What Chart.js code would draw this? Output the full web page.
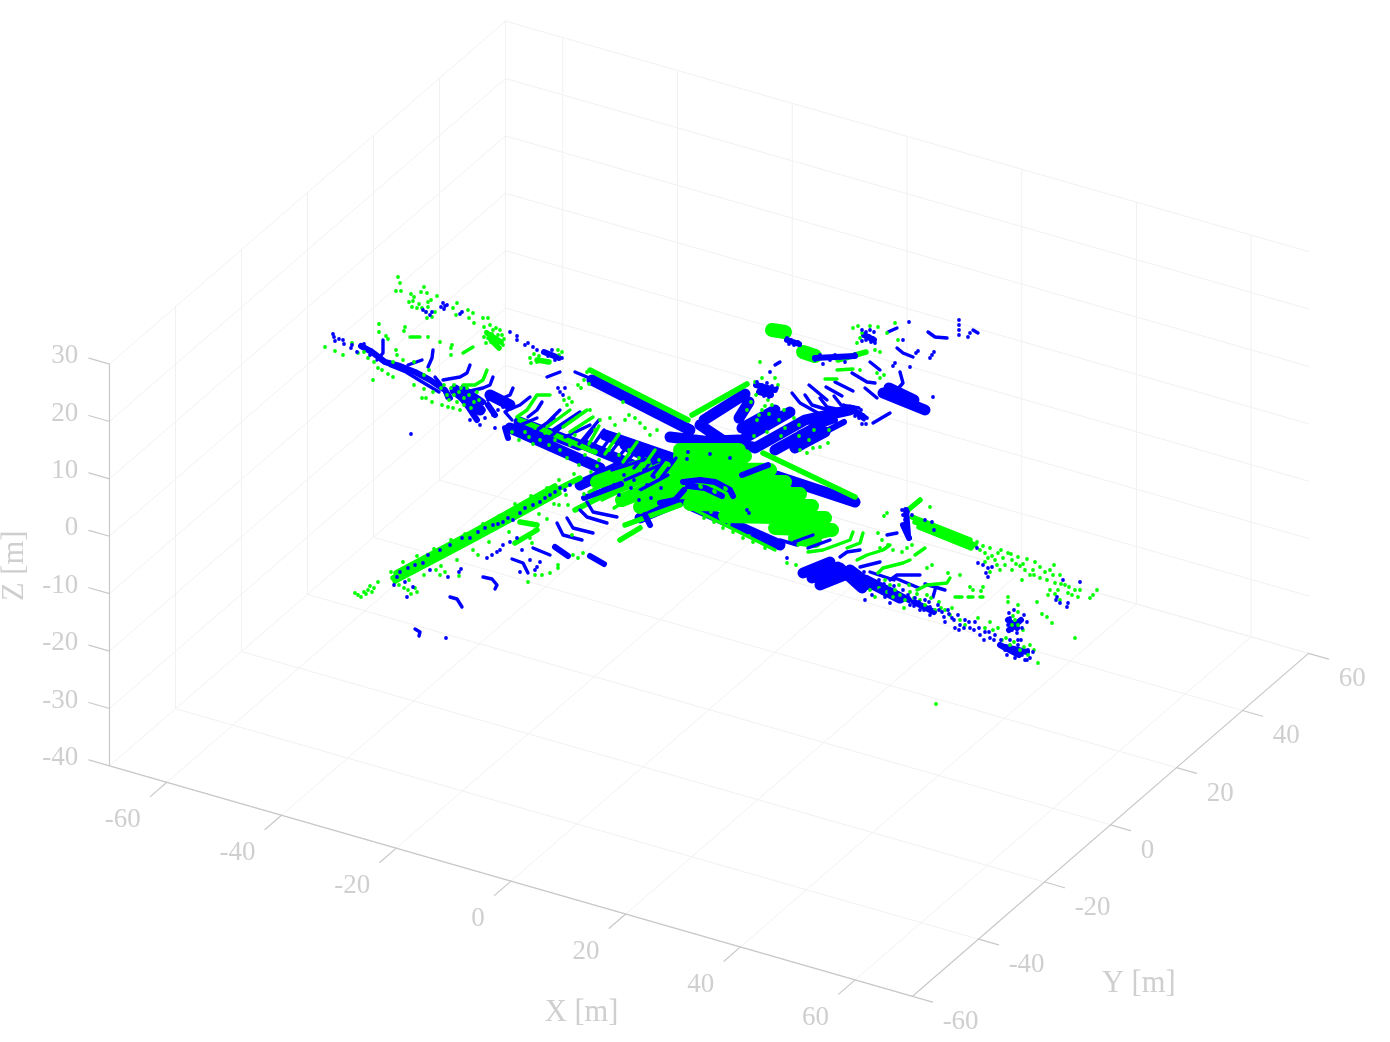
<!DOCTYPE html>
<html><head><meta charset="utf-8">
<script src="https://cdn.jsdelivr.net/npm/chart.js@4"></script>
<style>html,body{margin:0;padding:0;background:#fff}canvas{display:block}</style>
</head><body><canvas id="c" width="1390" height="1042"></canvas>
<script>
// Axis ticks (metres)
const xTicks=[-60,-40,-20,0,20,40,60];
const yTicks=[-60,-40,-20,0,20,40,60];
const zTicks=[-40,-30,-20,-10,0,10,20,30];
const xLabels=["-60","-40","-20","0","20","40","60"];
const yLabels=["-60","-40","-20","0","20","40","60"];
const zLabels=["-40","-30","-20","-10","0","10","20","30"];
// Point cloud, as (u,v) in the view plane of the orthographic
// projection, origin at (X,Y,Z)=(0,0,0). Depth cannot be read back from one picture.
// Densely sampled stretches of a scan are kept as polylines, flat u,v lists.
const blueDense=[
[-117,100,-19,50],[-39,43,44,33],[-19,38,30,40],[-9,55,21,35],[-5,60,36,86],[30,62,40,78],
[-124,35,-69,12],[-104,45,-37,22],[-84,35,-49,15],[-129,-5,-89,14],
[-199,52,-109,12],[-190,58,-130,35],[-254,90,-229,70],[-219,85,-199,75],
[36,42,81,68],[46,32,96,60],[66,30,111,55],[86,32,116,48],[33,52,66,70],[96,60,141,70],[174,87,216,70],[180,92,205,80],
[64,5,146,-22],[-19,-25,71,-65],[-69,-38,-27,-20],
[94,-93,121,-82],[103,-98,129,-87],[111,-105,136,-95],[131,-88,153,-108],[141,-90,161,-105],[156,-100,191,-118]];
const greenDense=[
[-29,30,30,30],[-29,24,36,24],[-34,12,61,10],[-37,0,76,-2],[-39,-12,91,-14],[-19,-24,103,-26],
[16,-36,116,-38],[66,-48,123,-50],[86,-58,106,-61],
[-112,-2,-64,16],[-101,-10,-44,12],[-87,-20,-37,0],[-69,-27,-37,-12],
[63,150,76,148],[94,128,106,124]];
const blueThick=[
[-154,-67,-141,-76],[-119,-76,-105,-84],[-26,-2,-9,0,6,-2,21,-10,24,-16],[-21,-6,-4,-8,13,-16],
[-49,-23,-34,-20,-25,-10],[-64,-35,-59,-45],[33,5,59,15],
[197,-30,199,-55],[194,-45,200,-58],[-250,85,-240,72,-232,60],[-246,92,-226,78],[-221,75,-214,65],[-204,52,-201,42],
[155,145,165,140],[78,140,90,136],[106,122,146,124],[47,95,66,90],[50,88,62,85],[144,70,155,63],
[299,-140,308,-148],[300,-150,312,-140],[296,-167,318,-172],[291,-165,310,-175],[-125,-18,-88,-4],
[-348,134,-337,128,-324,118,-309,114,-294,108,-279,100,-264,90,-259,82],[-165,128,-150,122],
[160,-100,200,-120],[205,-122,225,-132],[91,47,126,60],[110,45,135,58]];
const greenThick=[
[-119,110,-21,60],[-17,65,38,96],[54,27,146,-17],[93,130,106,123],[129,120,157,128],
[206,-42,266,-65],[203,-37,261,-60],[210,-47,262,-68],[199,-30,211,-20],[-316,-98,-239,-57,-189,-30,-149,-8,-129,2],[-313,-93,-236,-52,-154,-6],[-314,-101,-240,-62,-190,-35,-150,-13],
[-194,-63,-172,-50],[-189,-42,-172,-45],[-134,-30,-89,-7],[-222,147,-208,138],[-218,140,-210,132],[-89,-60,-69,-48],[-84,-45,-29,-25],[-189,60,-114,28],[-172,120,-160,118]];
const blueRings=[
[-276,130,-277,122,-281,113],[-301,115,-287,120],[-239,115,-242,107,-249,103,-266,100],
[-216,103,-219,95,-226,92,-239,89],[-196,92,-199,85,-206,82,-214,80],
[-179,83,-189,75,-201,70,-204,68,-197,60],[-167,78,-172,70,-181,63],[-149,70,-162,57],[-129,68,-156,50],[-119,55,-144,43],
[-326,140,-326,127,-332,120],[-330,122,-318,114,-303,108,-290,100,-270,88],
[-162,103,-149,108],[-134,108,-122,103],[-274,103,-266,93,-262,82],
[-172,62,-196,52],[-155,62,-175,48],[-140,60,-160,42],[-110,60,-130,36],
[-226,-97,-217,-99,-212,-105,-214,-109],[-259,-117,-252,-119,-247,-127],[-294,-149,-289,-152,-290,-156],
[-197,-79,-186,-83,-181,-93],[-176,-68,-159,-75],[-152,-43,-146,-55,-127,-60],[-142,-38,-136,-48,-116,-53],
[-129,-30,-122,-37,-102,-43],[-122,-22,-116,-32,-92,-37],
[151,-70,138,-72,131,-77],[171,-82,151,-87],[211,-95,188,-95,181,-100],[178,-55,188,-53],[216,-104,236,-110],[226,-110,224,-117],
[161,-92,185,-100],[186,-98,210,-108],[85,-62,104,-55],
[179,148,188,152],[219,148,226,143,238,142],[264,150,269,147],[188,132,194,127,204,123],[161,118,171,110],
[143,107,158,98,166,97],[126,98,144,89],[117,93,133,84],[156,92,168,82],[164,57,181,67],[191,108,194,97,186,88],[66,115,71,118],
[83,87,91,77,116,63],[96,85,103,75,126,68],[111,82,118,73,141,68],[125,84,132,75,150,72],[100,95,118,80],[135,75,155,60],
[-97,10,-59,22],[-84,0,-49,15],[-69,-10,-41,5],[99,-68,121,-60],[71,-60,88,-65],
[-115,52,-125,38],[-105,50,-117,33],[-96,46,-109,28],[-87,42,-101,24],[-78,38,-93,20],[-69,34,-84,16],[-60,30,-75,12],[-51,28,-66,8],[-42,24,-57,4],[-33,22,-48,2]];
const greenRings=[
[-222,110,-226,100,-234,95,-246,95],[-159,85,-172,85,-182,70,-192,63],[-139,70,-162,53],[-122,70,-146,53],[-116,63,-139,48],
[-299,143,-289,143],[-246,127,-236,133],
[144,-52,141,-60,114,-70,99,-72],[126,-48,121,-55,94,-62,89,-65],[154,-53,151,-63,138,-68],
[181,-65,174,-70,158,-75,148,-80],[201,-80,194,-83,174,-88,169,-93],[241,-98,238,-103,218,-105,208,-110],[206,-75,216,-68],
[246,-117,253,-117],[259,-117,264,-117],[271,-117,274,-117],[128,110,144,111],[116,101,128,101],[-14,-30,66,-70],
[-110,54,-120,36],[-90,46,-104,26],[-72,38,-86,18],[-54,30,-68,10],[-120,-12,-92,2],[-107,-20,-78,-6],[-95,-28,-70,-12]];
const greenPoints=[
-311,203,-309,197,-313,189,-308,189,-298,186,-288,188,-285,193,-282,187,-272,184,-296,179,-297,173,-292,172,-287,172,-281,178,-281,173,-274,168,-282,162,-295,183,-300,178,-278,180,-290,176,-283,168,-277,163,
-252,177,-256,172,-253,165,-241,170,-236,167,-240,162,-235,157,-226,162,-221,162,
-225,153,-219,155,-213,152,-209,150,-207,145,-223,148,-217,146,-221,142,-214,142,-210,139,-218,138,-223,137,-206,135,-212,135,-216,150,-211,145,-205,141,-225,143,
-179,122,-172,118,-175,126,-167,120,-151,130,-147,128,-131,95,-125,100,-122,108,-142,75,-137,78,-178,117,-170,124,-150,125,-128,92,-120,96,-145,80,-140,82,
-330,156,-330,148,-323,144,-321,141,-304,153,-305,149,-281,143,-269,138,-257,135,-258,132,-258,125,-384,133,-374,129,-366,125,-357,137,-351,127,-336,100,-341,122,-331,112,-327,110,-321,106,-316,103,-313,130,-312,125,-295,95,-285,91,-287,82,-283,82,-277,78,-276,88,-267,75,-261,73,-256,72,-249,70,-345,128,-335,118,-316,118,-306,120,-295,118,-285,105,-280,110,
-265,95,-258,92,-255,85,-250,88,-245,82,-252,78,-245,75,-240,85,-262,85,-235,78,-268,92,-260,80,-248,92,-242,92,-232,88,-255,95,-238,72,-230,80,
-189,60,-174,52,-164,47,-154,40,-139,35,-184,48,-169,40,-149,30,-197,48,-124,25,-134,45,-114,50,-109,60,-99,62,-94,55,-180,43,-160,35,-142,22,-130,15,-118,8,-190,40,-176,36,-112,14,
-86,78,-119,70,-84,60,-69,57,-59,45,-52,50,-80,65,-64,52,-74,62,
51,118,91,30,98,27,104,32,111,33,119,37,151,110,168,107,171,102,175,105,186,157,178,147,189,140,166,130,171,128,144,152,149,154,169,153,161,154,148,137,151,142,153,147,
46,98,66,102,53,102,69,95,59,80,63,75,47,85,48,60,53,70,42,78,56,74,60,66,70,60,45,44,58,48,72,44,90,44,100,40,76,52,85,62,75,70,90,55,105,50,120,50,38,70,50,65,
178,-33,175,-36,221,-27,169,-53,173,-60,179,-65,184,-70,171,-68,193,-72,198,-68,203,-65,218,-88,223,-85,261,-107,264,-110,274,-107,272,-111,251,-95,239,-93,299,-117,299,-122,328,-122,309,-125,309,-132,333,-134,338,-137,343,-143,366,-158,329,-183,289,-148,227,-224,269,-138,
306,-140,309,-145,303,-145,301,-165,311,-170,321,-165,319,-175,293,-160,281,-142,276,-148,284,-150,297,-158,305,-162,315,-167,325,-170,304,-136,314,-150,
186,-110,191,-115,196,-120,181,-105,184,-117,201,-112,211,-120,216,-125,226,-130,236,-130,241,-135,251,-140,256,-145,161,-110,166,-117,176,-100,170,-108,190,-105,205,-118,178,-112,195,-128,218,-115,230,-122,200,-105,208,-114,222,-118,232,-128,243,-128,
271,-70,276,-73,281,-68,283,-76,289,-73,294,-78,299,-73,303,-80,309,-77,296,-85,288,-85,276,-82,311,-86,303,-90,316,-90,321,-95,326,-82,331,-87,325,-95,331,-98,341,-90,344,-95,346,-103,338,-100,351,-95,341,-110,349,-110,356,-105,363,-115,371,-110,369,-117,381,-118,384,-115,388,-110,359,-113,351,-120,339,-115,313,-100,291,-90,281,-92,
268,-62,274,-66,279,-78,286,-80,292,-70,302,-74,307,-84,314,-84,318,-79,324,-90,336,-92,345,-85,352,-104,346,-114,360,-107,366,-110,
-354,-113,-351,-115,-348,-117,-345,-112,-341,-110,-337,-112,-339,-106,-335,-108,-331,-102,-343,-114,
-301,-110,-294,-108,-310,-105,-298,-114,-292,-112,-305,-108,-269,-95,-273,-90,-264,-92,-250,-96,
-136,-75,-126,-73,-131,-78,-151,-85,-151,-88,-159,-93,-167,-95,-174,-95,-181,-102,-162,-39,-150,-25,-141,-25,-137,-55,-177,-63,-174,-50,-179,-58,-231,-75,
-318,-92,-314,-102,-306,-82,-300,-100,-292,-76,-285,-95,-275,-69,-268,-86,-258,-60,-252,-80,-244,-54,-236,-70,-226,-44,-220,-62,-210,-36,-200,-52,-194,-24,-185,-42,-178,-16,-170,-34,-162,-8,-155,-24,-150,0,-143,-15,-135,6,-125,-14,
-9,-6,-8,-7,5,-11,6,-12,16,-8,17,-9,87,-85,78,-83,
-5,-38,5,-42,14,-48,24,-52,34,-58,44,-62,56,-68,-12,-28,2,-32,20,-44,40,-56,
-100,30,-90,25,-80,30,-70,22,-60,18,-50,20,-40,15,-110,20];
const bluePoints=[
-375,143,-374,139,-366,140,-365,136,-358,132,-357,135,-376,146,-339,125,-338,130,-370,141,-352,128,-345,136,
-286,170,-283,168,-279,165,-277,168,-266,177,-264,174,-268,173,-265,171,-262,175,-247,168,-249,166,
-199,148,-192,144,-192,140,-184,135,-181,137,-176,133,-172,130,-164,128,-161,124,-156,125,-151,123,-154,120,-147,122,-157,130,-298,46,
-239,60,-229,55,-214,52,-224,62,-216,65,-211,70,-221,80,-206,73,-149,88,-146,85,-151,92,-144,92,-225,70,-236,66,-205,82,
-312,-97,-286,-83,-279,-90,-239,-58,-216,-45,-206,-42,-196,-40,-189,-33,-176,-25,-159,-15,-139,-5,-309,-92,-301,-88,-294,-85,-281,-75,-269,-70,-259,-65,-247,-58,-231,-52,-224,-48,-211,-44,-201,-38,-184,-28,-169,-22,-164,-18,-154,-12,-149,-8,-144,-10,
-304,-102,-302,-117,-296,-107,-315,-105,-263,-158,-250,-92,-248,-89,-261,-97,-222,-78,-217,-75,-212,-72,-209,-70,-206,-65,-199,-62,-192,-58,-187,-70,-189,-92,-172,-87,-174,-90,-179,-80,-169,-82,
194,-110,199,-115,206,-118,209,-123,216,-120,221,-127,229,-125,233,-132,239,-130,243,-138,249,-135,251,-145,256,-140,261,-148,266,-142,271,-155,276,-152,281,-158,188,-120,201,-125,211,-130,221,-135,236,-142,246,-148,171,-110,176,-117,163,-115,156,-120,181,-123,
155,-92,160,-100,165,-106,170,-100,175,-104,180,-112,185,-106,190,-120,195,-116,200,-118,205,-126,210,-122,215,-130,220,-122,225,-132,230,-130,235,-137,240,-134,245,-140,250,-150,255,-148,260,-142,265,-150,270,-148,275,-160,280,-152,285,-160,
301,-138,303,-150,311,-140,313,-148,308,-153,299,-145,315,-135,291,-165,296,-170,303,-172,309,-165,313,-175,319,-170,306,-178,316,-180,321,-178,301,-160,309,-160,286,-155,292,-160,298,-175,305,-168,312,-160,318,-180,324,-172,300,-133,305,-130,318,-142,
193,-30,194,-35,196,-40,194,-45,197,-50,199,-55,201,-58,203,-35,199,-32,216,-40,223,-42,225,-50,268,-68,269,-83,274,-85,279,-88,277,-93,279,-97,283,-87,348,-117,351,-123,358,-127,359,-123,354,-100,371,-102,347,-120,
200,158,250,160,250,155,250,150,250,145,259,143,261,147,209,129,207,127,223,125,221,122,225,128,201,113,186,117,184,114,224,83,61,108,194,140,153,56,157,56,
153,150,157,148,161,150,165,148,155,144,160,144,164,142,157,140,162,138,166,137,153,139,
78,142,82,140,86,138,80,136,85,135,89,138,91,135,111,125,116,122,121,120,126,125,131,122,136,118,141,123,146,126,106,120,114,116,
48,98,53,95,58,97,63,94,50,90,56,88,62,90,68,92,55,84,60,83,
144,73,148,68,152,70,146,64,150,62,154,65,158,62,-21,28,1,26,-22,21,21,22,38,-30,40,-33,78,-78,
-95,-5,-85,5,-75,0,-65,10,-90,-15,-78,-8,-62,-5,-55,3,-48,-8,-70,-20,-58,-18];

// Orthographic view: view-plane units per metre along each axis
const view={xu:5.736,xv:-1.646,yu:3.3,yv:2.858,zv:5.74};
const lim={x0:-70,x1:70,y0:-60,y1:60,z0:-40,z1:30};
const project=(X,Y,Z)=>({x:view.xu*X+view.yu*Y, y:view.xv*X+view.yv*Y+view.zv*Z});
const gap={x:NaN,y:NaN};
const pts=f=>{const o=[];for(let i=0;i<f.length;i+=2)o.push({x:f[i],y:f[i+1]});return o;};
const lines=l=>l.flatMap(s=>[...pts(s),gap]);
const seg=(a,b)=>[project(...a),project(...b),gap];

const gridData=[];
for(const x of xTicks){gridData.push(...seg([x,lim.y0,lim.z0],[x,lim.y1,lim.z0]),...seg([x,lim.y1,lim.z0],[x,lim.y1,lim.z1]));}
for(const y of yTicks){gridData.push(...seg([lim.x0,y,lim.z0],[lim.x1,y,lim.z0]),...seg([lim.x0,y,lim.z0],[lim.x0,y,lim.z1]));}
for(const z of zTicks){gridData.push(...seg([lim.x0,lim.y0,z],[lim.x0,lim.y1,z]),...seg([lim.x0,lim.y1,z],[lim.x1,lim.y1,z]));}
const axisData=[
...seg([lim.x0,lim.y0,lim.z0],[lim.x1,lim.y0,lim.z0]),
...seg([lim.x1,lim.y0,lim.z0],[lim.x1,lim.y1,lim.z0]),
...seg([lim.x0,lim.y0,lim.z0],[lim.x0,lim.y0,lim.z1])];
for(const x of xTicks)axisData.push(...seg([x,lim.y0,lim.z0],[x,lim.y0-5,lim.z0]));
for(const y of yTicks)axisData.push(...seg([lim.x1,y,lim.z0],[lim.x1+3.5,y,lim.z0]));
for(const z of zTicks)axisData.push(...seg([lim.x0,lim.y0,z],[lim.x0-3.6,lim.y0,z]));

const BLUE='#0000ff',GREEN='#00ff00';
const lineSet=(data,color,width)=>({data,showLine:true,borderColor:color,borderWidth:width,pointRadius:0,spanGaps:false,borderCapStyle:'round',borderJoinStyle:'round'});
const dotSet=(data,color)=>({data,showLine:false,backgroundColor:color,pointRadius:1.9,pointBorderWidth:0,borderWidth:0});
const sets=[
 lineSet(gridData,'#f1f1f1',1),
 lineSet(axisData,'#c8c8c8',1.2),
 lineSet(lines(blueDense),BLUE,11),
 lineSet(lines(greenDense),GREEN,14),
 lineSet(lines(greenThick),GREEN,5.5),
 lineSet(lines(blueThick),BLUE,6),
 lineSet(lines(blueRings),BLUE,3.4),
 lineSet(lines(greenRings),GREEN,3.4),
 dotSet(pts(greenPoints),GREEN),
 dotSet(pts(bluePoints),BLUE)];
sets.forEach((s,i)=>{s.order=sets.length-i;});

const TEXT='#cfcfcf';
const labelPlugin={id:'axisText',afterDatasetsDraw(chart){
 const ctx=chart.ctx,sx=chart.scales.x,sy=chart.scales.y;
 const at=(u,v)=>[sx.getPixelForValue(u),sy.getPixelForValue(v)];
 ctx.save();ctx.fillStyle=TEXT;ctx.textBaseline='middle';
 ctx.font='27px "Liberation Serif"';
 ctx.textAlign='right';
 xTicks.forEach((t,i)=>{const p=project(t+2,lim.y0-11.4,lim.z0);const [a,b]=at(p.x,p.y);ctx.fillText(xLabels[i],a,b+2);});
 zTicks.forEach((t,i)=>{const p=project(lim.x0-5.46,lim.y0,t);const [a,b]=at(p.x,p.y);ctx.fillText(zLabels[i],a,b+1);});
 ctx.textAlign='left';
 yTicks.forEach((t,i)=>{const p=project(lim.x1+7.55,t-4,lim.z0);const [a,b]=at(p.x,p.y);ctx.fillText(yLabels[i],a,b+2);});
 ctx.textAlign='center';ctx.font='30.5px "Liberation Serif"';
 let p=project(29,-89,lim.z0);let q=at(p.x,p.y);ctx.fillText('X [m]',q[0],q[1]+1);
 p=project(97.6,-39.4,lim.z0);q=at(p.x,p.y);ctx.fillText('Y [m]',q[0],q[1]+1);
 p=project(-86.6,lim.y0,-9.9);q=at(p.x,p.y);ctx.translate(q[0]+1,q[1]);ctx.rotate(-Math.PI/2);ctx.fillText('Z [m]',0,0);
 ctx.restore();
}};
new Chart(document.getElementById('c'),{type:'scatter',data:{datasets:sets},plugins:[labelPlugin],options:{
 responsive:false,animation:false,layout:{padding:0,autoPadding:false},
 plugins:{legend:{display:false},tooltip:{enabled:false}},
 scales:{x:{type:'linear',display:false,min:-709,max:681},y:{type:'linear',display:false,min:-562,max:480}}
}});
</script></body></html>
